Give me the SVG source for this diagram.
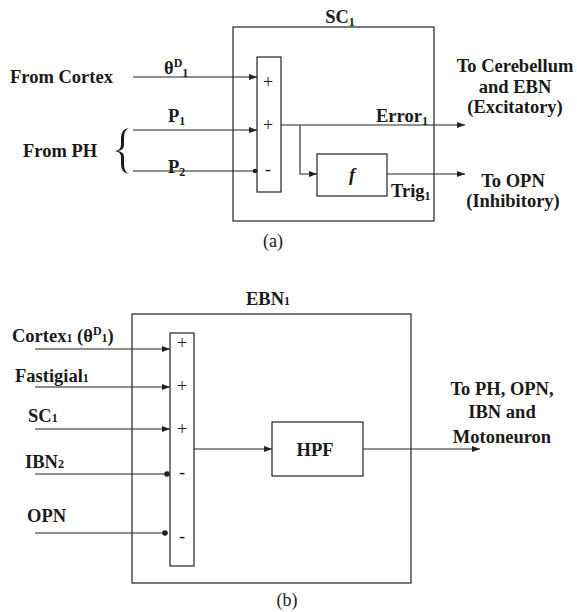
<svg xmlns="http://www.w3.org/2000/svg" width="577" height="612" viewBox="0 0 577 612">
<style>
.box{fill:none;stroke:#222;stroke-width:1.2}
.ln{fill:none;stroke:#222;stroke-width:1.1}
text{font-family:'Liberation Serif','DejaVu Serif',serif;fill:#1a1a1a}
.t{font-weight:bold;font-size:18.5px}
.s{font-size:18px}
.sub{font-size:12px}
.m{text-anchor:middle}
</style>
<defs>
<marker id="ah" markerWidth="8" markerHeight="6" refX="8" refY="3" orient="auto" markerUnits="userSpaceOnUse">
<path d="M0,0 L8,3 L0,6 Z" fill="#222"/>
</marker>
</defs>
<rect width="577" height="612" fill="#fff"/>

<!-- (a) -->
<g id="sc1">
<rect class="box" x="233" y="27" width="201" height="194"/>
<text class="t m" x="340" y="23">SC<tspan class="sub" dy="3">1</tspan></text>
</g>
<g id="sum-a">
<rect class="box" x="257" y="57" width="24" height="135"/>
<text class="s m" x="268" y="88">+</text>
<text class="s m" x="268" y="131">+</text>
<text class="s m" x="268" y="175">-</text>
</g>
<g id="f-box">
<rect class="box" x="317" y="154" width="70" height="42"/>
<text class="t m" x="352" y="181" font-style="italic">f</text>
</g>
<g id="labels-a">
<text class="t" x="10" y="83">From Cortex</text>
<text class="t" x="23" y="157">From PH</text>
<path d="M129,128 Q121,129 121,138 L121,145 Q121,150 115,151 Q121,152 121,157 L121,164 Q121,173 129,174 Q124,172 124,164 L124,157 Q124,152 118,151 Q124,150 124,145 L124,138 Q124,130 129,128 Z" fill="#1a1a1a"/>
<text class="t" x="164" y="74">θ<tspan class="sub" dy="-7">D</tspan><tspan class="sub" dy="10">1</tspan></text>
<text class="t" x="168" y="122">P<tspan class="sub" dy="3">1</tspan></text>
<text class="t" x="168" y="173">P<tspan class="sub" dy="3">2</tspan></text>
<text class="t" x="376" y="122">Error<tspan class="sub" dy="3">1</tspan></text>
<text class="t" x="391" y="197">Trig<tspan class="sub" dy="3">1</tspan></text>
<text class="t m" x="515" y="72">To Cerebellum</text>
<text class="t m" x="515" y="93">and EBN</text>
<text class="t m" x="515" y="113">(Excitatory)</text>
<text class="t m" x="513" y="187">To OPN</text>
<text class="t m" x="513" y="207">(Inhibitory)</text>
<text class="s m" x="273" y="247">(a)</text>
</g>
<g id="connectors-a">
<line class="ln" x1="133" y1="77" x2="257" y2="77" marker-end="url(#ah)"/>
<line class="ln" x1="133" y1="130" x2="257" y2="130" marker-end="url(#ah)"/>
<line class="ln" x1="133" y1="171" x2="255" y2="171"/>
<circle cx="255" cy="171" r="2.3" fill="#222"/>
<line class="ln" x1="281" y1="125" x2="465" y2="125" marker-end="url(#ah)"/>
<polyline class="ln" points="300,125 300,174 317,174" marker-end="url(#ah)"/>
<line class="ln" x1="387" y1="174" x2="465" y2="174" marker-end="url(#ah)"/>
</g>

<!-- (b) -->
<g id="ebn1">
<rect class="box" x="132" y="314" width="279" height="269"/>
<text class="t" x="246" y="305">EBN<tspan class="sub">1</tspan></text>
</g>
<g id="sum-b">
<rect class="box" x="170" y="333" width="24" height="233"/>
<text class="s m" x="182" y="349">+</text>
<text class="s m" x="182" y="392">+</text>
<text class="s m" x="182" y="435">+</text>
<text class="s m" x="182" y="478">-</text>
<text class="s m" x="182" y="542">-</text>
</g>
<g id="hpf">
<rect class="box" x="272" y="422" width="91" height="54"/>
<text class="t m" x="315" y="456">HPF</text>
</g>
<g id="labels-b">
<text class="t" x="12" y="342">Cortex<tspan class="sub">1</tspan> (θ<tspan class="sub" dy="-7">D</tspan><tspan class="sub" dy="7">1</tspan>)</text>
<text class="t" x="15" y="382">Fastigial<tspan class="sub">1</tspan></text>
<text class="t" x="28" y="422">SC<tspan class="sub">1</tspan></text>
<text class="t" x="25" y="468">IBN<tspan class="sub">2</tspan></text>
<text class="t" x="27" y="522">OPN</text>
<text class="t m" x="502" y="395">To PH, OPN,</text>
<text class="t m" x="502" y="418">IBN and</text>
<text class="t m" x="502" y="443">Motoneuron</text>
<text class="s m" x="287" y="606">(b)</text>
</g>
<g id="connectors-b">
<line class="ln" x1="35" y1="349" x2="170" y2="349" marker-end="url(#ah)"/>
<line class="ln" x1="35" y1="387" x2="170" y2="387" marker-end="url(#ah)"/>
<line class="ln" x1="35" y1="429" x2="170" y2="429" marker-end="url(#ah)"/>
<line class="ln" x1="35" y1="474" x2="167" y2="474"/>
<circle cx="167" cy="474" r="2.8" fill="#222"/>
<line class="ln" x1="35" y1="533" x2="165" y2="533"/>
<circle cx="165" cy="533" r="2.8" fill="#222"/>
<line class="ln" x1="194" y1="449" x2="272" y2="449" marker-end="url(#ah)"/>
<line class="ln" x1="363" y1="449" x2="480" y2="449" marker-end="url(#ah)"/>
</g>
</svg>
